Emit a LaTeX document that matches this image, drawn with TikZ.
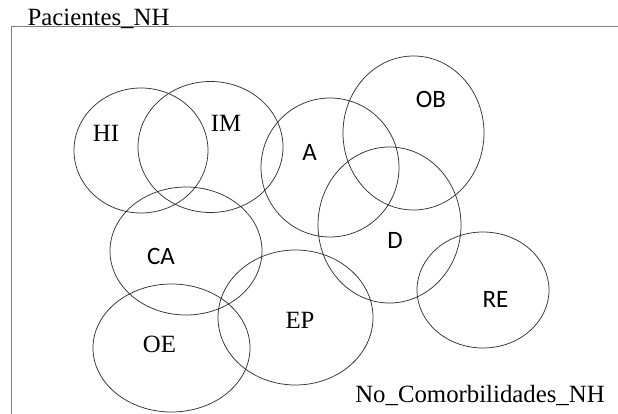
\documentclass[tikz,border=0pt]{standalone}
\usepackage{fontspec}
\setmainfont{Liberation Serif}
\newfontfamily\labelsans{Carlito}
\usetikzlibrary{shapes.geometric}
\begin{document}
\begin{tikzpicture}[x=1pt,y=-1pt,
  setring/.style={ellipse, draw=black!80, line width=0.75pt, inner sep=0pt},
  serifname/.style={inner sep=0pt, font=\fontsize{24.8}{29}\selectfont},
  sansname/.style={inner sep=0pt, font=\labelsans\fontsize{25}{29}\selectfont},
  framerule/.style={draw=black!50, line width=1pt}]
\useasboundingbox (0,0) rectangle (618,414);

% universe frame (open at right and bottom)
\coordinate (fbl) at (11,414);
\coordinate (ftl) at (11,27);
\coordinate (ftr) at (618,27);
\draw[framerule] (fbl) -- (ftl) -- (ftr);

% sets
\node[setring, minimum width=134pt, minimum height=125pt] (hi) at (141,150.5) {};
\node[setring, minimum width=145pt, minimum height=131pt] (im) at (210.5,147) {};
\node[setring, minimum width=138pt, minimum height=139pt] (a)  at (330,167.5) {};
\node[setring, minimum width=141pt, minimum height=154pt] (ob) at (413.5,133) {};
\node[setring, minimum width=143pt, minimum height=156pt] (d)  at (389.5,225) {};
\node[setring, minimum width=152pt, minimum height=128pt] (ca) at (186,251) {};
\node[setring, minimum width=157pt, minimum height=128pt] (oe) at (171.5,348) {};
\node[setring, minimum width=155pt, minimum height=135pt] (ep) at (295.5,317.5) {};
\node[setring, minimum width=132pt, minimum height=116pt] (re) at (483,290) {};

% set names
\node[serifname] (hiname) at (106,133) {HI};
\node[serifname] (imname) at (226,123) {IM};
\node[sansname]  (aname)  at (309.5,152.5) {A};
\node[sansname]  (obname) at (431,99.5) {OB};
\node[sansname]  (dname)  at (395,240) {D};
\node[sansname]  (caname) at (161,256) {CA};
\node[serifname] (oename) at (159.5,344) {OE};
\node[serifname] (epname) at (300,320) {EP};
\node[sansname]  (rename) at (495.5,299) {RE};

% titles
\node[serifname, anchor=base] (univ) at (98.5,26) {Pacientes\_NH};
\node[serifname, anchor=base] (rest) at (480,402) {No\_Comorbilidades\_NH};
\end{tikzpicture}
\end{document}
